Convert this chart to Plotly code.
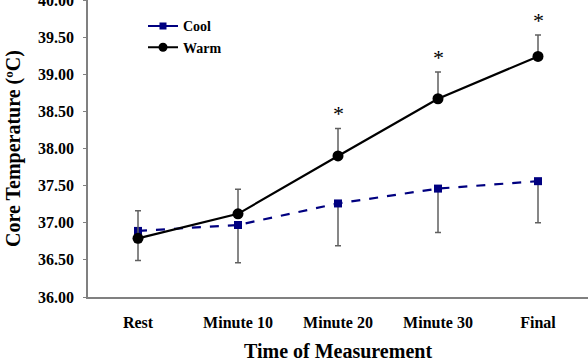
import plotly.graph_objects as go

categories = ["Rest", "Minute 10", "Minute 20", "Minute 30", "Final"]
cool = [36.89, 36.97, 37.26, 37.46, 37.56]
cool_err_minus = [0.40, 0.51, 0.57, 0.59, 0.56]
warm = [36.79, 37.12, 37.90, 38.67, 39.24]
warm_err_plus = [0.37, 0.33, 0.37, 0.36, 0.29]
significant = [False, False, True, True, True]
y_ticks = [36.0, 36.5, 37.0, 37.5, 38.0, 38.5, 39.0, 39.5, 40.0]

FONT = "Liberation Serif"
NAVY = "#000080"
ERR = "#606060"

fig = go.Figure()

fig.add_trace(go.Scatter(
    x=categories, y=cool, mode="lines+markers", showlegend=False,
    line=dict(color=NAVY, width=2.2, dash="dash"),
    marker=dict(symbol="square", size=8, color=NAVY),
    error_y=dict(type="data", symmetric=False, array=[0] * len(cool),
                 arrayminus=cool_err_minus, color=ERR, thickness=1.5, width=3),
))
fig.add_trace(go.Scatter(
    x=categories, y=warm, mode="lines+markers", showlegend=False,
    line=dict(color="black", width=2.2),
    marker=dict(symbol="circle", size=11, color="black"),
    error_y=dict(type="data", symmetric=False, array=warm_err_plus,
                 arrayminus=[0] * len(warm), color=ERR, thickness=1.5, width=3),
))

# legend entries (solid line samples, as in the reference)
fig.add_trace(go.Scatter(
    x=[None], y=[None], mode="lines+markers", name="Cool",
    line=dict(color=NAVY, width=2), marker=dict(symbol="square", size=7, color=NAVY),
))
fig.add_trace(go.Scatter(
    x=[None], y=[None], mode="lines+markers", name="Warm",
    line=dict(color="black", width=2), marker=dict(symbol="circle", size=9, color="black"),
))

for cat, w, e, s in zip(categories, warm, warm_err_plus, significant):
    if s:
        fig.add_annotation(x=cat, y=w + e, text="*", showarrow=False,
                           yanchor="bottom", yshift=0,
                           font=dict(family=FONT, size=22, color="black"))

fig.update_layout(
    width=588, height=362,
    margin=dict(l=88, r=0, t=0, b=65, autoexpand=False),
    paper_bgcolor="white", plot_bgcolor="white",
    font=dict(family=FONT, color="black"),
    legend=dict(x=0.11, y=0.965, xanchor="left", yanchor="top",
                font=dict(family=FONT, size=14, color="black", weight="bold"),
                bgcolor="rgba(0,0,0,0)", tracegroupgap=0, itemwidth=30),
    xaxis=dict(
        type="category", range=[-0.5, 4.5], automargin=False,
        showline=True, linecolor="#808080", linewidth=1.5,
        showgrid=False, ticks="", zeroline=False,
        tickfont=dict(family=FONT, size=16, color="black", weight="bold"),
        ticklabelstandoff=10,
        title=dict(text="Time of Measurement", standoff=14,
                   font=dict(family=FONT, size=20, color="black", weight="bold")),
    ),
    yaxis=dict(
        range=[36.0, 40.0], tickvals=y_ticks, automargin=False,
        ticktext=[f"{v:.2f}" for v in y_ticks],
        showline=True, linecolor="#808080", linewidth=1.5,
        showgrid=False, ticks="outside", ticklen=3, tickcolor="#808080",
        tickwidth=1, zeroline=False, ticklabeloverflow="allow",
        tickfont=dict(family=FONT, size=16, color="black", weight="bold"),
        ticklabelstandoff=6,
        title=dict(text="Core Temperature (ºC)", standoff=12,
                   font=dict(family=FONT, size=20, color="black", weight="bold")),
    ),
)

fig.write_html("out.html")
